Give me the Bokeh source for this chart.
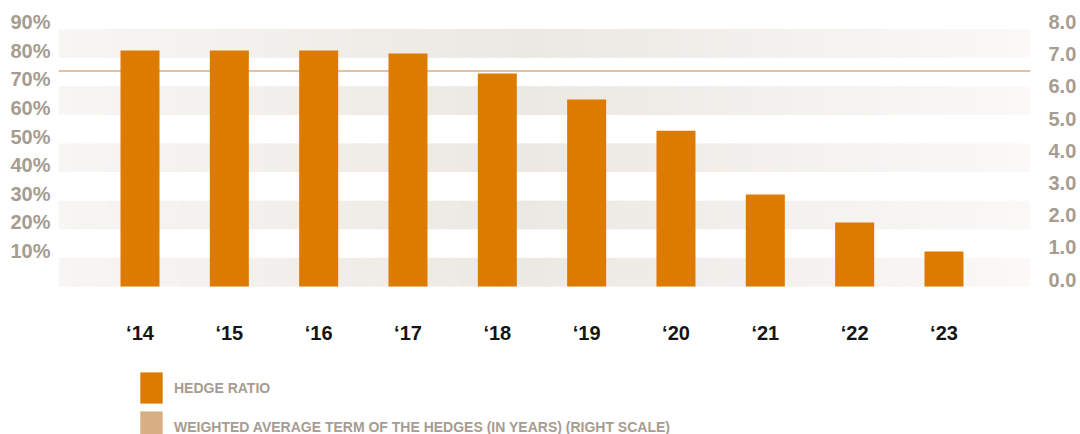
from bokeh.plotting import figure
from bokeh.models import (Range1d, LinearAxis, FixedTicker, PrintfTickFormatter,
                          Span, Legend, LegendItem, ColumnDataSource)
from bokeh.core.properties import value
from bokeh.embed import file_html
from bokeh.resources import INLINE

# ---------------- data ----------------
years = ["\u201814", "\u201815", "\u201816", "\u201817", "\u201818",
         "\u201819", "\u201820", "\u201821", "\u201822", "\u201823"]
hedge_ratio = [82.5, 82.5, 82.5, 81.5, 74.5, 65.4, 54.5, 32.2, 22.4, 12.2]   # %
term_years = 6.7                                                              # right scale
left_ticks = [10, 20, 30, 40, 50, 60, 70, 80, 90]
right_ticks = [0, 1, 2, 3, 4, 5, 6, 7, 8]
legend_labels = ["HEDGE RATIO",
                 "WEIGHTED AVERAGE TERM OF THE HEDGES (IN YEARS) (RIGHT SCALE)"]

# ---------------- style ----------------
ORANGE = "#DD7A00"
TAN = "#D8AE85"
GREY = "#A69C90"
BAND = (236, 232, 227)
FONT = "Liberation Sans"

W, H = 1080, 434
FRAME_L, FRAME_R = 58, 1030
FRAME_T, FRAME_B = 16, 434
ZERO_Y = 286
PX_PER = 2.86
Y_END = (ZERO_Y - FRAME_T) / PX_PER
Y_START = -(FRAME_B - ZERO_Y) / PX_PER
PCT_MAX, RIGHT_MAX = left_ticks[-1], right_ticks[-1]
K = RIGHT_MAX / PCT_MAX
LIFT = 7.0 / PX_PER

SLOT = 89.33
FIRST_CENTER = 139.5
x_start = -(FIRST_CENTER - FRAME_L) / SLOT
x_end = x_start + (FRAME_R - FRAME_L) / SLOT
x_idx = list(range(len(years)))

p = figure(width=W, height=H, x_range=Range1d(x_start, x_end),
           y_range=Range1d(Y_START, Y_END), output_backend="svg",
           toolbar_location=None, x_axis_location=None, y_axis_location=None,
           min_border_left=FRAME_L, min_border_right=W - FRAME_R,
           min_border_top=FRAME_T, min_border_bottom=H - FRAME_B)
p.outline_line_color = None
p.grid.visible = False
p.background_fill_color = "white"
p.border_fill_color = "white"

p.extra_y_ranges = {
    "lab_l": Range1d(Y_START - LIFT, Y_END - LIFT),
    "lab_r": Range1d((Y_START - LIFT) * K, (Y_END - LIFT) * K),
    "term": Range1d(Y_START * K, Y_END * K),
}

# ---------------- background bands with horizontal gradient ----------------
pairs = list(zip([0] + left_ticks[:-1], left_ticks))[::2]
N = 80
step = (x_end - x_start) / N
L, R, B, T, C = [], [], [], [], []
for lo, hi in pairs:
    for i in range(N):
        t = (i + 0.5) / N
        if t < 0.48:
            w = 1 - 1.25 * (0.48 - t)
        else:
            w = 1 - 1.45 * (t - 0.48)
        col = tuple(int(round(255 + (c - 255) * w)) for c in BAND)
        L.append(x_start + i * step)
        R.append(x_start + (i + 1) * step + (0.6 * step if i < N - 1 else 0))
        B.append(lo)
        T.append(hi)
        C.append("#%02x%02x%02x" % col)
p.quad(left=L, right=R, bottom=B, top=T, fill_color=C, line_color=None, level="image")

# ---------------- term line (right scale) ----------------
p.add_layout(Span(location=term_years, dimension="width", y_range_name="term",
                  line_color=TAN, line_width=1.5, level="underlay"))
# zero-size proxy glyph at the term value, used for the legend swatch
term_proxy = p.vbar(x=[x_idx[0]], bottom=[term_years], top=[term_years], width=0,
                    y_range_name="term", fill_color=TAN, line_color=None,
                    level="underlay")

# ---------------- bars ----------------
src = ColumnDataSource(dict(x=x_idx, top=hedge_ratio, lab=years, base=[0] * len(years)))
bars = p.vbar(x="x", top="top", width=39 / SLOT, bottom=0, source=src,
              fill_color=ORANGE, line_color=None)

# category labels (x axis)
p.text(x="x", y="base", text="lab", source=src, y_offset=46,
       text_align="center", text_baseline="middle",
       text_font=value(FONT), text_font_style="bold", text_font_size="20px",
       text_color="#151515")

# ---------------- axes ----------------
def style_axis(ax, color, size, standoff):
    ax.axis_line_color = None
    ax.major_tick_line_color = None
    ax.minor_tick_line_color = None
    ax.major_tick_in = 0
    ax.major_tick_out = 0
    ax.minor_tick_in = 0
    ax.minor_tick_out = 0
    ax.major_label_text_font = FONT
    ax.major_label_text_font_style = "bold"
    ax.major_label_text_font_size = size
    ax.major_label_text_color = color
    ax.major_label_standoff = standoff

la = LinearAxis(y_range_name="lab_l", ticker=FixedTicker(ticks=left_ticks),
                formatter=PrintfTickFormatter(format="%d%%"))
style_axis(la, GREY, "20px", 8)
p.add_layout(la, "left")

ra = LinearAxis(y_range_name="lab_r", ticker=FixedTicker(ticks=right_ticks),
                formatter=PrintfTickFormatter(format="%.1f"))
style_axis(ra, GREY, "20px", 18)
p.add_layout(ra, "right")

# ---------------- legend ----------------
legend = Legend(items=[LegendItem(label=legend_labels[0], renderers=[bars], index=0),
                       LegendItem(label=legend_labels[1], renderers=[term_proxy], index=0)],
                location=(79, -12), orientation="vertical",
                glyph_width=28, glyph_height=39, spacing=0, padding=0, margin=0,
                label_standoff=9, label_text_font=FONT, label_text_font_style="bold",
                label_text_font_size="14px", label_text_color=GREY,
                background_fill_alpha=0, border_line_color=None)
p.add_layout(legend, "center")

open("out.html", "w").write(file_html(p, INLINE))
